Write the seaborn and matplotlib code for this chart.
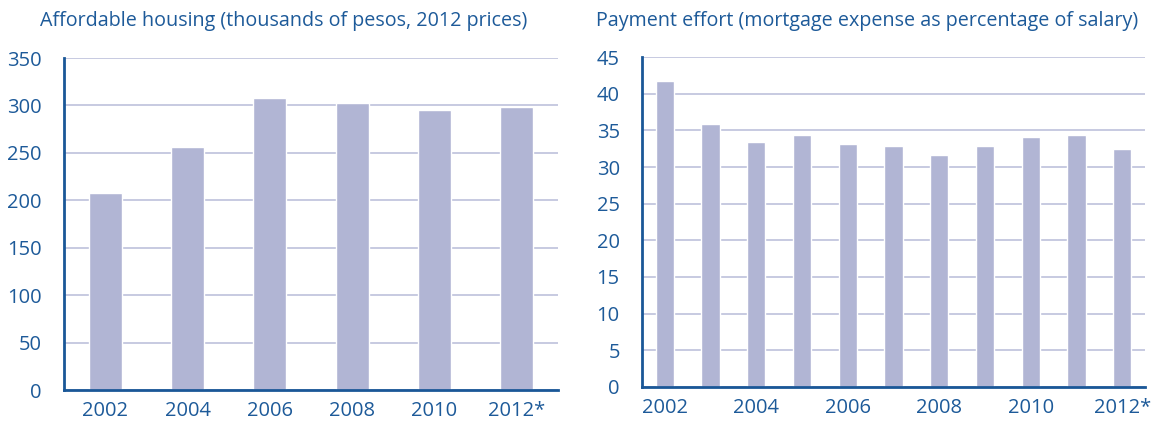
import matplotlib
matplotlib.use("Agg")
import matplotlib.pyplot as plt
import numpy as np
import pandas as pd
import seaborn as sns

# Affordable housing (thousands of pesos, 2012 prices)
housing_years = ["2002", "2004", "2006", "2008", "2010", "2012*"]
housing_values = [208, 256, 308, 303, 295.5, 298]

# Payment effort (mortgage expense as % of salary)
effort_years = ["2002", "2003", "2004", "2005", "2006", "2007",
                "2008", "2009", "2010", "2011", "2012*"]
effort_values = [41.75, 35.9, 33.4, 34.4, 33.2, 32.9, 31.6, 32.9, 34.15, 34.4, 32.4]
effort_labels = ["2002", "", "2004", "", "2006", "", "2008", "", "2010", "", "2012*"]

BAR = "#b1b5d4"
GRID = "#c3c6de"
DARK = "#1a5797"
TEXT = "#1d5a99"

sns.set_theme(style="white")
plt.rcParams["font.family"] = ["Open Sans", "DejaVu Sans"]


def style_axis(ax, n, ymax, ystep, labels):
    ax.set_xlim(-0.5, n - 0.5)
    ax.set_ylim(0, ymax)
    ax.set_yticks(np.arange(0, ymax + 0.1, ystep))
    ax.set_xticks(range(n))
    ax.set_xticklabels(labels)
    ax.set_xticks(np.arange(0.5, n - 0.4, 1), minor=True)
    ax.yaxis.grid(True, color=GRID, linewidth=1.3)
    ax.set_axisbelow(True)
    for s in ["top", "right"]:
        ax.spines[s].set_visible(False)
    for s in ["left", "bottom"]:
        ax.spines[s].set_color(DARK)
        ax.spines[s].set_linewidth(2.0)
    ax.tick_params(axis="x", which="major", length=0, pad=8, labelsize=14.5, labelcolor=TEXT)
    ax.tick_params(axis="x", which="minor", direction="in", length=4, width=1.5, color=DARK)
    ax.tick_params(axis="y", length=4, width=1.5, color=DARK, pad=12, labelsize=14.5, labelcolor=TEXT)
    ax.set_xlabel("")
    ax.set_ylabel("")


fig = plt.figure(figsize=(11.58, 4.32), dpi=100)
ax1 = fig.add_axes([64 / 1158, 1 - 390 / 432, (558 - 64) / 1158, (390 - 58) / 432])
ax2 = fig.add_axes([642 / 1158, 1 - 387 / 432, (1145 - 642) / 1158, (387 - 57) / 432])

df1 = pd.DataFrame({"year": housing_years, "value": housing_values})
sns.barplot(data=df1, x="year", y="value", color=BAR, width=0.4, saturation=1, ax=ax1)
style_axis(ax1, len(housing_years), 350, 50, housing_years)

df2 = pd.DataFrame({"year": effort_years, "value": effort_values})
sns.barplot(data=df2, x="year", y="value", color=BAR, width=0.4, saturation=1, ax=ax2)
style_axis(ax2, len(effort_years), 45, 5, effort_labels)

fig.text(40 / 1158, 1 - 21 / 432, "Affordable housing (thousands of pesos, 2012 prices)",
         color=TEXT, fontsize=14.2, va="center", ha="left")
fig.text(596 / 1158, 1 - 21 / 432, "Payment effort (mortgage expense as percentage of salary)",
         color=TEXT, fontsize=14.2, va="center", ha="left")

fig.savefig("out.png", dpi=100)
